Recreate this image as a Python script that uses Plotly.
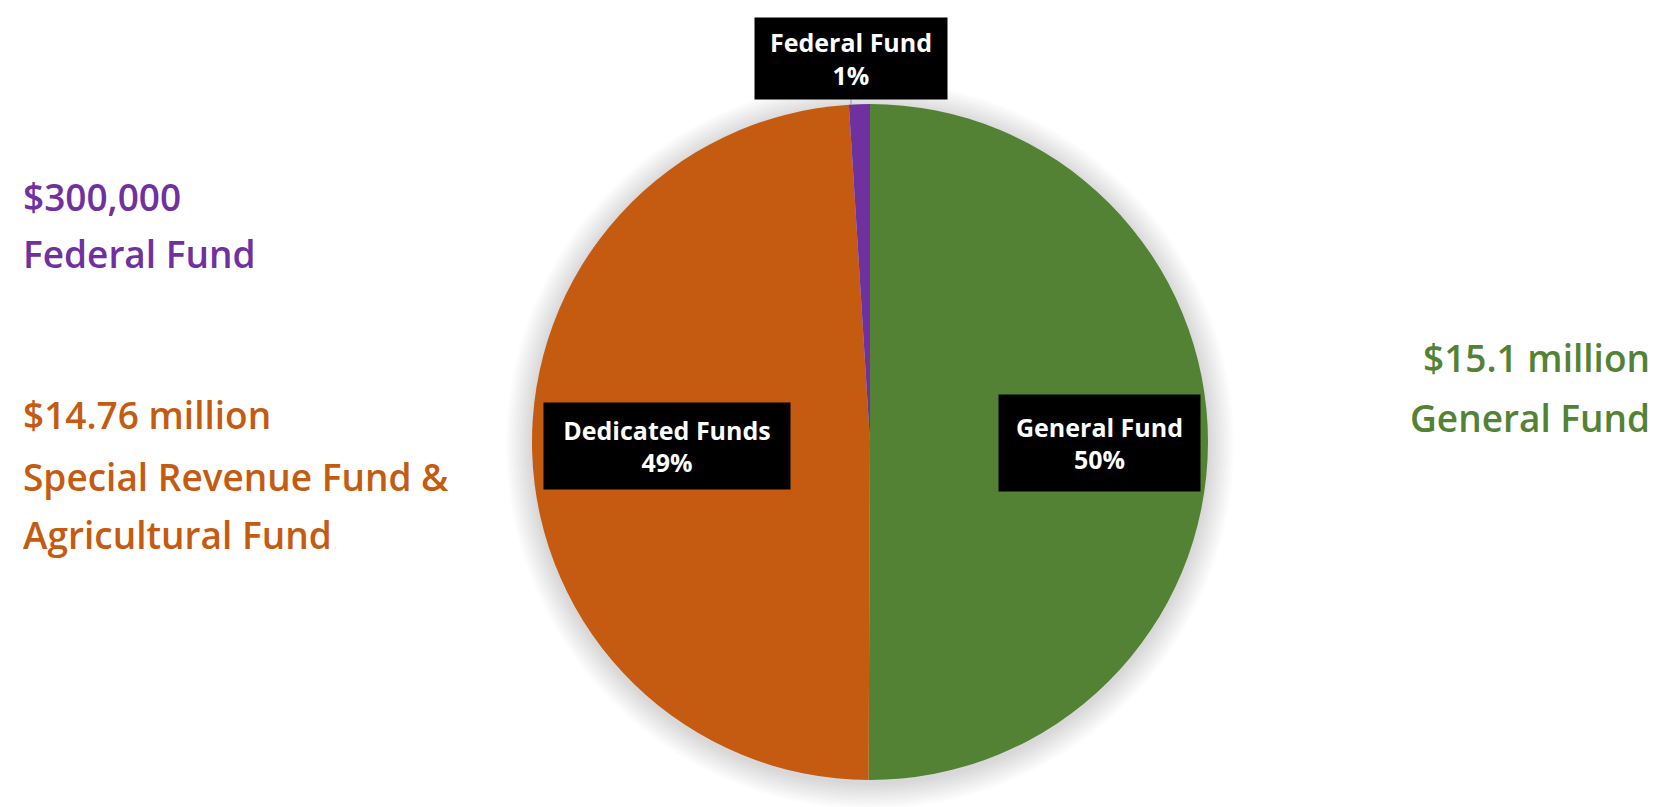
import plotly.graph_objects as go

# ---- data ----
fund_labels = ["General Fund", "Dedicated Funds", "Federal Fund"]
fund_values = [15.1, 14.76, 0.3]  # $ millions
fund_colors = ["#548235", "#C55A11", "#7030A0"]
amount_texts = ["$15.1 million", "$14.76 million", "$300,000"]
desc_texts = [["General Fund"], ["Special Revenue Fund &", "Agricultural Fund"], ["Federal Fund"]]

W, H = 1673, 807
total = sum(fund_values)
pcts = [round(v / total * 100) for v in fund_values]

def px(x):
    return x / W

def py(y):
    return 1 - y / H

fig = go.Figure()

# pie geometry (pixels)
cx, cy, r = 870, 442, 338

# soft shadow behind pie
for grow in range(26, 0, -2):
    rr = r + grow
    fig.add_shape(type="circle", xref="paper", yref="paper",
                  x0=px(cx - rr), x1=px(cx + rr), y0=py(cy + rr + 3), y1=py(cy - rr + 3),
                  fillcolor="rgba(0,0,0,0.012)", line_width=0, layer="below")

fig.add_trace(go.Pie(
    labels=fund_labels,
    values=fund_values,
    sort=False,
    direction="clockwise",
    rotation=0,
    marker=dict(colors=fund_colors, line=dict(width=0)),
    textinfo="none",
    hoverinfo="label+value+percent",
    showlegend=False,
    domain=dict(x=[px(cx - r), px(cx + r)], y=[py(cy + r), py(cy - r)]),
))

# in-pie labels (black boxes)
label_boxes = {
    "General Fund": dict(x=1099, y=443, w=201, h=96),
    "Dedicated Funds": dict(x=667, y=446, w=246, h=86),
    "Federal Fund": dict(x=851, y=58, w=192, h=81),
}
for lab, pct in zip(fund_labels, pcts):
    b = label_boxes[lab]
    fig.add_annotation(
        x=px(b["x"]), y=py(b["y"]), xref="paper", yref="paper",
        text=f"<b>{lab}</b><br><b>{pct}%</b>",
        showarrow=False, align="center",
        font=dict(family="Open Sans", size=25, color="white"),
        bgcolor="black", width=b["w"], height=b["h"], borderpad=0,
        xanchor="center", yanchor="middle",
    )

# leader line for Federal Fund label
fig.add_shape(type="line", xref="paper", yref="paper",
              x0=px(851), x1=px(851), y0=py(99), y1=py(105),
              line=dict(color="#999999", width=1))

# side texts
side = [
    # (index, x, anchor, ys)
    (0, 1652, "right", [357, 417]),
    (1, 21, "left", [414, 476, 534]),
    (2, 21, "left", [196, 254]),
]
for idx, x, anc, ys in side:
    lines = [amount_texts[idx]] + desc_texts[idx]
    for line, y in zip(lines, ys):
        fig.add_annotation(
            x=px(x), y=py(y), xref="paper", yref="paper",
            text=line, showarrow=False,
            xanchor=anc, yanchor="middle",
            font=dict(family="Open Sans", size=37, color=fund_colors[idx], weight=600),
        )

fig.update_layout(
    width=W, height=H,
    margin=dict(l=0, r=0, t=0, b=0),
    paper_bgcolor="white",
    plot_bgcolor="white",
)

fig.write_html("out.html")
